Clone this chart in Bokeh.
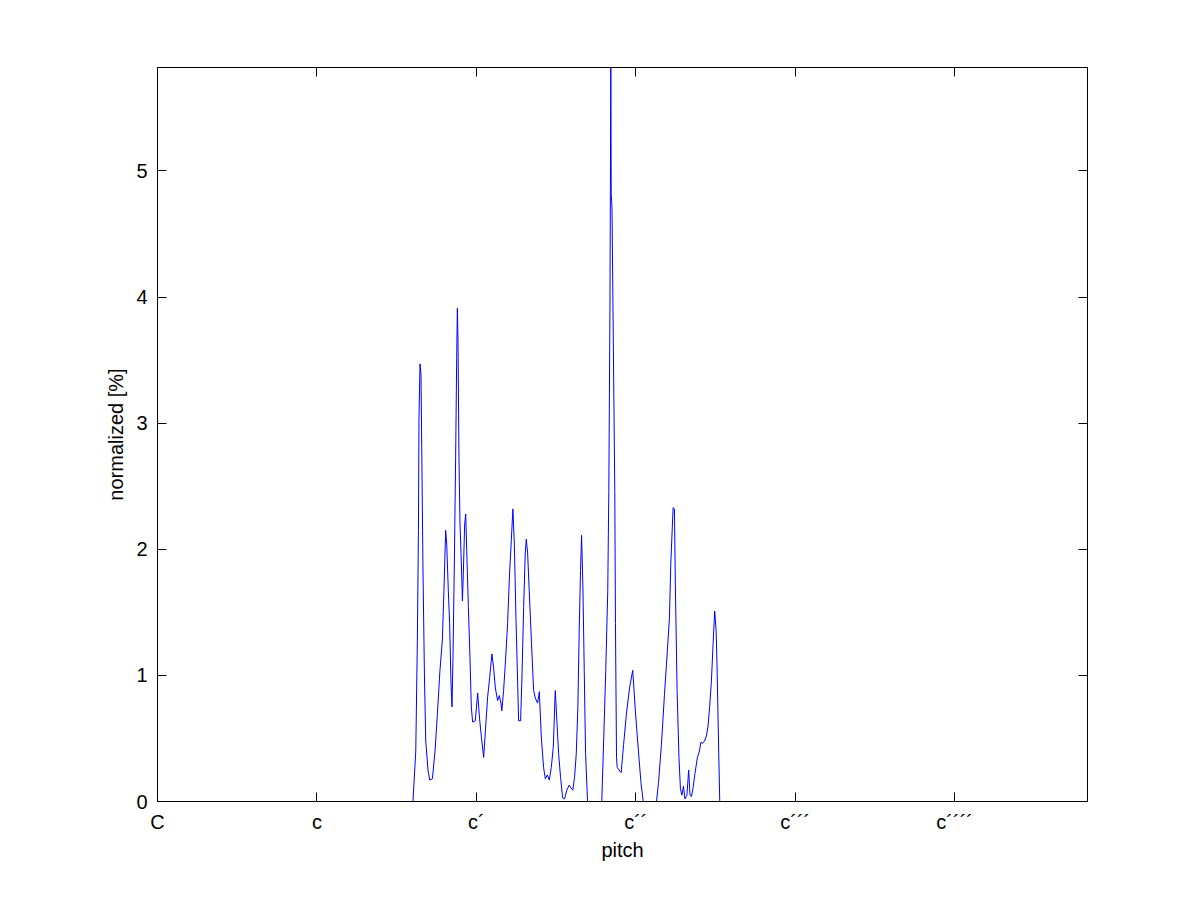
from bokeh.plotting import figure
from bokeh.models import FixedTicker, LinearAxis, Range1d, ColumnDataSource, CustomLabelingPolicy
from bokeh.embed import file_html
from bokeh.resources import INLINE

# pitch in semitones above C (0 = C, 12 = c, 24 = c´, ...), values in %
pitch = [0.0, 19.23, 19.44, 19.56, 19.64, 19.68, 19.76, 19.83, 19.89, 19.98, 20.09,
         20.19, 20.36, 20.49, 20.69, 20.89, 21.07, 21.26, 21.44, 21.56, 21.69,
         21.77, 21.89, 21.99, 22.09, 22.17, 22.24, 22.35, 22.44, 22.52, 22.57,
         22.62, 22.69, 22.77, 22.87, 22.95, 23.02, 23.12, 23.20, 23.27, 23.40,
         23.52, 23.62, 23.72, 23.92, 24.10, 24.23, 24.38, 24.55, 24.68, 24.85,
         25.00, 25.17, 25.30, 25.43, 25.60, 25.73, 25.85, 25.92, 26.05, 26.18,
         26.35, 26.50, 26.63, 26.75, 26.86, 26.98, 27.11, 27.18, 27.33, 27.43,
         27.56, 27.68, 27.76, 27.86, 27.98, 28.14, 28.31, 28.44, 28.61, 28.74,
         28.89, 29.06, 29.19, 29.34, 29.49, 29.64, 29.79, 29.94, 30.06, 30.19,
         30.34, 30.49, 30.64, 30.81, 30.99, 31.11, 31.26, 31.39, 31.52, 31.64,
         31.74, 31.84, 31.92, 32.02, 32.12, 32.22, 32.37, 33.44, 33.59, 33.74,
         33.89, 33.97, 34.06, 34.12, 34.15, 34.21, 34.42, 34.47, 34.55, 34.60,
         34.74, 34.90, 35.08, 35.30, 35.53, 35.77, 35.98, 36.20, 36.39, 36.56,
         37.56, 37.71, 37.93, 38.16, 38.38, 38.53, 38.64, 38.81, 38.91, 38.98,
         39.11, 39.25, 39.36, 39.47, 39.59, 39.70, 39.85, 39.98, 40.08, 40.19,
         40.30, 40.45, 40.64, 40.79, 40.90, 41.02, 41.17, 41.32, 41.44, 41.56,
         41.69, 41.82, 41.94, 42.05, 42.12, 42.24, 42.32, 70.0]

normalized = [0.0, 0.0, 0.40, 1.28, 2.15, 3.02, 3.47, 3.39, 2.81, 1.86, 1.01,
              0.48, 0.25, 0.17, 0.18, 0.40, 0.70, 1.04, 1.28, 1.67, 2.15,
              2.04, 1.67, 1.41, 0.94, 0.75, 1.14, 1.93, 2.73, 3.52, 3.91,
              3.65, 2.73, 2.20, 1.89, 1.59, 1.81, 2.20, 2.28, 2.01, 1.54,
              1.14, 0.75, 0.63, 0.64, 0.86, 0.67, 0.51, 0.35, 0.56, 0.83,
              0.98, 1.17, 1.06, 0.90, 0.80, 0.84, 0.78, 0.72, 0.88, 1.09,
              1.41, 1.81, 2.07, 2.32, 2.04, 1.46, 0.93, 0.64, 0.64, 0.98,
              1.54, 1.97, 2.08, 1.97, 1.67, 1.28, 0.88, 0.82, 0.78, 0.87,
              0.51, 0.27, 0.18, 0.21, 0.17, 0.27, 0.43, 0.88, 0.64, 0.38,
              0.19, 0.03, 0.02, 0.09, 0.13, 0.11, 0.09, 0.19, 0.38, 0.75,
              1.35, 1.83, 2.11, 1.70, 1.04, 0.38, 0.0, 0.0, 0.51, 1.04,
              1.67, 2.46, 4.00, 5.82, 4.82, 4.70, 2.46, 1.41, 0.35, 0.27,
              0.25, 0.23, 0.45, 0.70, 0.90, 1.04, 0.70, 0.40, 0.15, 0.0,
              0.0, 0.15, 0.45, 0.85, 1.20, 1.45, 1.90, 2.33, 2.32, 1.70,
              0.88, 0.35, 0.10, 0.05, 0.12, 0.02, 0.05, 0.25, 0.05, 0.04,
              0.10, 0.22, 0.35, 0.40, 0.47, 0.46, 0.48, 0.52, 0.60, 0.75,
              0.95, 1.25, 1.51, 1.35, 1.05, 0.40, 0.0, 0.0]

x_tick_values = [0, 12, 24, 36, 48, 60]
x_tick_labels = ["C", "c", "c\u00b4", "c\u00b4\u00b4", "c\u00b4\u00b4\u00b4", "c\u00b4\u00b4\u00b4\u00b4"]
y_tick_values = [0, 1, 2, 3, 4, 5]

FONT = "Liberation Sans"
FS = "20px"

p = figure(width=1185, height=885, output_backend="svg", toolbar_location=None,
           x_range=Range1d(0, 70), y_range=Range1d(0, 5.82),
           min_border_left=157, min_border_right=98, min_border_top=67,
           min_border_bottom=84, x_axis_label="pitch", y_axis_label="normalized [%]")
p.background_fill_color = "white"
p.border_fill_color = "white"
p.outline_line_color = "black"
p.outline_line_width = 1
p.xgrid.visible = False
p.ygrid.visible = False

src = ColumnDataSource(dict(x=pitch, y=normalized))
p.line("x", "y", source=src, line_color="#0000ff", line_width=1)

xt = FixedTicker(ticks=x_tick_values)
yt = FixedTicker(ticks=y_tick_values)
overrides = {v: lab for v, lab in zip(x_tick_values, x_tick_labels)}

for ax in p.xaxis:
    ax.ticker = xt
    ax.major_label_overrides = overrides
for ax in p.yaxis:
    ax.ticker = yt

def style(ax):
    ax.axis_line_color = "black"
    ax.major_tick_line_color = "black"
    ax.major_tick_in = 9
    ax.major_tick_out = 0
    ax.minor_tick_line_color = None
    ax.major_label_text_font = FONT
    ax.major_label_text_font_size = FS
    ax.major_label_text_color = "black"
    ax.axis_label_text_font = FONT
    ax.axis_label_text_font_size = FS
    ax.axis_label_text_font_style = "normal"
    ax.axis_label_text_color = "black"

for ax in p.xaxis + p.yaxis:
    style(ax)
p.xaxis.major_label_standoff = 9
p.xaxis.axis_label_standoff = 3
p.yaxis.major_label_standoff = 10
p.yaxis.axis_label_standoff = 6

no_labels = CustomLabelingPolicy(code="return []")
top = LinearAxis(ticker=xt, major_label_policy=no_labels)
right = LinearAxis(ticker=yt, major_label_policy=no_labels)
for ax in (top, right):
    style(ax)
p.add_layout(top, "above")
p.add_layout(right, "right")

open("out.html", "w").write(file_html(p, INLINE))
